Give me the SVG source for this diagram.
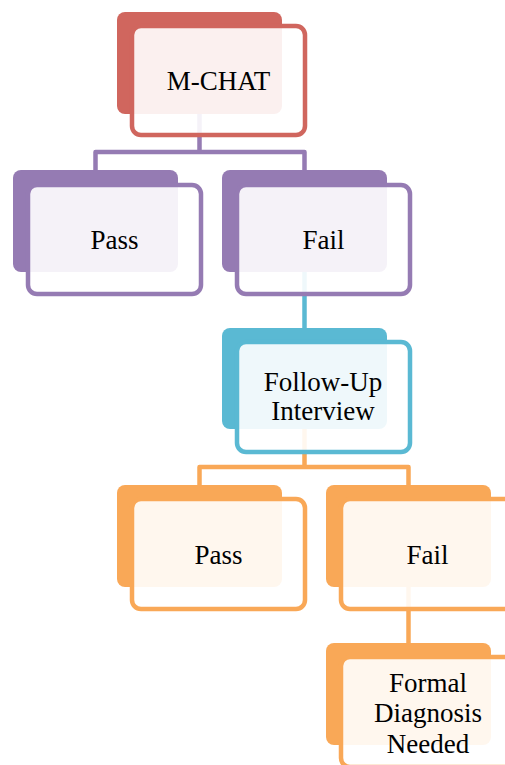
<svg xmlns="http://www.w3.org/2000/svg" width="505" height="765" viewBox="0 0 505 765">
<style>
.bk{stroke:none}
.fr{fill:#ffffff;fill-opacity:0.9;stroke-width:4.5}
.cn{fill:none;stroke-width:4.5;stroke-linejoin:round}
text{font-family:"Liberation Serif","Times New Roman",serif;font-size:27px;fill:#000;text-anchor:middle}
.red{fill:#D0665E}.redS{stroke:#D0665E}
.pur{fill:#957BB3}.purS{stroke:#957BB3}
.blu{fill:#5AB9D3}.bluS{stroke:#5AB9D3}
.org{fill:#F9A857}.orgS{stroke:#F9A857}
</style>
<rect width="505" height="765" fill="#ffffff"/>
<g id="connectors">
<path class="cn purS" d="M199.5,114 V152 M95.5,172 V152 H304.5 V172"/>
<path class="cn bluS" d="M304.5,272 V330"/>
<path class="cn orgS" d="M304.5,429 V467 M199.5,487 V467 H408.5 V487"/>
<path class="cn orgS" d="M408.5,587 V645"/>
</g>
<g id="mchat">
<rect class="bk red" x="117" y="12" width="165" height="102" rx="8"/>
<rect class="fr redS" x="132" y="26" width="173" height="109" rx="9"/>
<text x="218.5" y="90">M-CHAT</text>
</g>
<g id="pass1">
<rect class="bk pur" x="13" y="170" width="165" height="102" rx="8"/>
<rect class="fr purS" x="28" y="185" width="173" height="109" rx="9"/>
<text x="114.5" y="249">Pass</text>
</g>
<g id="fail1">
<rect class="bk pur" x="222" y="170" width="165" height="102" rx="8"/>
<rect class="fr purS" x="237" y="185" width="173" height="109" rx="9"/>
<text x="323.5" y="249">Fail</text>
</g>
<g id="followup">
<rect class="bk blu" x="222" y="328" width="165" height="101" rx="8"/>
<rect class="fr bluS" x="237" y="342" width="173" height="110" rx="9"/>
<text x="323" y="391">Follow-Up</text>
<text x="323" y="420">Interview</text>
</g>
<g id="pass2">
<rect class="bk org" x="117" y="485" width="165" height="102" rx="8"/>
<rect class="fr orgS" x="132" y="499" width="173" height="110" rx="9"/>
<text x="218.5" y="564">Pass</text>
</g>
<g id="fail2">
<rect class="bk org" x="326" y="485" width="165" height="102" rx="8"/>
<rect class="fr orgS" x="341" y="499" width="173" height="110" rx="9"/>
<text x="427.5" y="564">Fail</text>
</g>
<g id="formal">
<rect class="bk org" x="326" y="643" width="165" height="102" rx="8"/>
<rect class="fr orgS" x="341" y="657" width="173" height="110" rx="9"/>
<text x="428" y="692">Formal</text>
<text x="428" y="722">Diagnosis</text>
<text x="428" y="753">Needed</text>
</g>
</svg>
